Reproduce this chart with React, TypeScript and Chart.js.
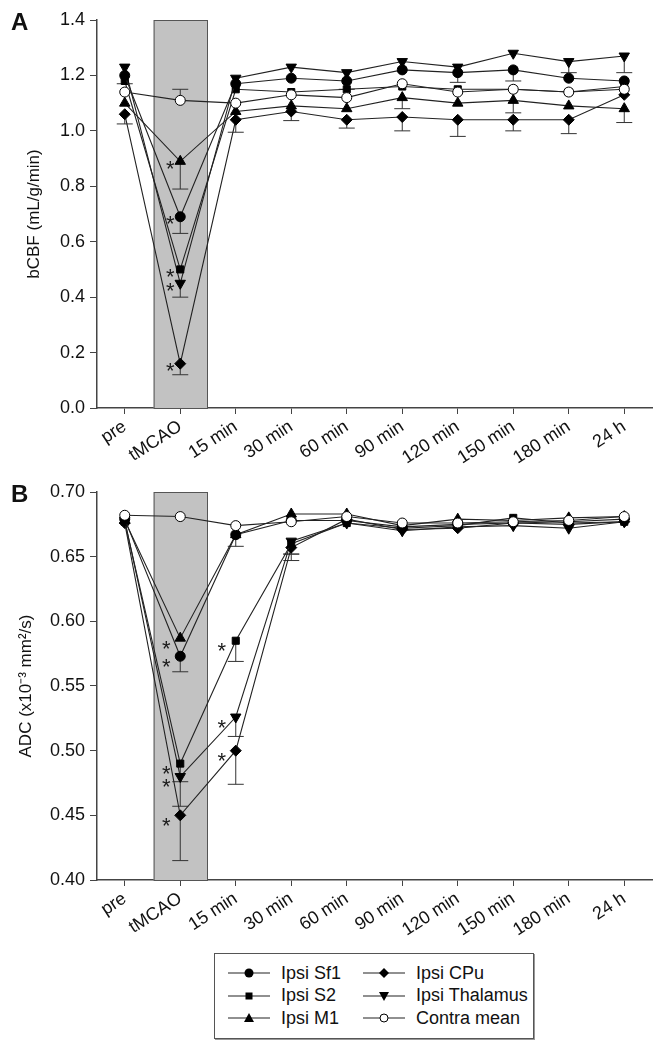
import React, { useEffect, useRef } from 'react';
import { Chart, registerables } from 'chart.js';

Chart.register(...registerables);

const FONT = '"Liberation Sans", Arial, Helvetica, sans-serif';

// ---- categories / ticks ----
const categories = ['pre', 'tMCAO', '15 min', '30 min', '60 min', '90 min', '120 min', '150 min', '180 min', '24 h'];
const seriesNames = ['Ipsi Sf1', 'Ipsi S2', 'Ipsi M1', 'Ipsi CPu', 'Ipsi Thalamus', 'Contra mean'];
const cbfTicks = { min: 0, max: 1.4, step: 0.2 };
const adcTicks = { min: 0.4, max: 0.7, step: 0.05 };
// tMCAO occlusion period (in category units)
const occlusionFrom = 0.52;
const occlusionTo = 1.5;

// ---- Panel A: bCBF (mL/g/min) ----
const cbfSf1 = [1.20, 0.69, 1.17, 1.19, 1.18, 1.22, 1.21, 1.22, 1.19, 1.18];
const cbfS2 = [1.18, 0.50, 1.15, 1.14, 1.15, 1.16, 1.15, 1.15, 1.14, 1.16];
const cbfM1 = [1.10, 0.89, 1.07, 1.09, 1.08, 1.12, 1.10, 1.11, 1.09, 1.08];
const cbfCPu = [1.06, 0.16, 1.04, 1.07, 1.04, 1.05, 1.04, 1.04, 1.04, 1.13];
const cbfThal = [1.23, 0.45, 1.19, 1.23, 1.21, 1.25, 1.23, 1.28, 1.25, 1.27];
const cbfContra = [1.14, 1.11, 1.10, 1.13, 1.12, 1.17, 1.14, 1.15, 1.14, 1.15];

// signed SEM (positive: drawn up, negative: drawn down)
const cbfSf1Err = [-0.03, -0.06, null, null, -0.03, null, -0.035, -0.04, null, null];
const cbfS2Err = [null, null, null, null, null, null, null, null, null, null];
const cbfM1Err = [null, -0.10, null, null, null, -0.04, null, -0.045, null, -0.05];
const cbfCPuErr = [-0.035, -0.04, -0.045, -0.033, -0.03, -0.05, -0.06, -0.04, -0.05, null];
const cbfThalErr = [null, -0.05, null, null, null, null, null, null, -0.04, -0.06];
const cbfContraErr = [null, 0.04, null, null, null, null, null, null, null, null];

// ---- Panel B: ADC (x10^-3 mm^2/s) ----
const adcSf1 = [0.679, 0.573, 0.667, 0.678, 0.678, 0.673, 0.675, 0.676, 0.677, 0.679];
const adcS2 = [0.677, 0.490, 0.585, 0.660, 0.676, 0.672, 0.674, 0.680, 0.676, 0.677];
const adcM1 = [0.678, 0.587, 0.667, 0.683, 0.683, 0.674, 0.679, 0.678, 0.680, 0.681];
const adcCPu = [0.676, 0.450, 0.500, 0.657, 0.679, 0.671, 0.672, 0.676, 0.675, 0.677];
const adcThal = [0.678, 0.480, 0.526, 0.662, 0.676, 0.670, 0.673, 0.674, 0.672, 0.677];
const adcContra = [0.682, 0.681, 0.674, 0.677, 0.681, 0.676, 0.676, 0.677, 0.678, 0.681];

const adcSf1Err = [null, -0.012, -0.009, null, null, null, null, null, null, null];
const adcS2Err = [null, -0.014, -0.016, -0.008, null, null, null, null, null, null];
const adcM1Err = [null, null, null, null, null, null, null, null, null, null];
const adcCPuErr = [null, -0.035, -0.026, -0.005, null, null, null, null, null, null];
const adcThalErr = [null, -0.023, -0.015, -0.015, null, null, null, null, null, null];
const adcContraErr = [null, null, null, null, null, null, null, null, null, null];

// significance asterisks (category indices)
const cbfSig = [[1], [1], [1], [1], [1], []];
const adcSig = [[1], [1, 2], [1], [1, 2], [1, 2], []];

const markerStyles = [
  { pointStyle: 'circle', rot: 0, fill: '#000', r: 5 },
  { pointStyle: 'rect', rot: 0, fill: '#000', r: 5 },
  { pointStyle: 'triangle', rot: 0, fill: '#000', r: 6 },
  { pointStyle: 'rectRot', rot: 0, fill: '#000', r: 5.5 },
  { pointStyle: 'triangle', rot: 180, fill: '#000', r: 6 },
  { pointStyle: 'circle', rot: 0, fill: '#fff', r: 5 },
];

const overlayPlugin = {
  id: 'overlay',
  beforeDatasetsDraw(chart: any) {
    const { ctx, scales } = chart;
    const x = scales.x, y = scales.y;
    const x0 = x.getPixelForValue(occlusionFrom);
    const x1 = x.getPixelForValue(occlusionTo);
    const yt = y.getPixelForValue(y.max);
    const yb = y.getPixelForValue(y.min);
    ctx.save();
    ctx.fillStyle = '#c2c2c2';
    ctx.fillRect(x0, yt, x1 - x0, yb - yt);
    ctx.strokeStyle = '#555';
    ctx.lineWidth = 1;
    ctx.strokeRect(x0 + 0.5, yt + 0.5, x1 - x0 - 1, yb - yt);
    // error bars
    ctx.strokeStyle = '#333';
    ctx.lineWidth = 1;
    chart.data.datasets.forEach((ds: any) => {
      (ds.errors || []).forEach((e: number | null, i: number) => {
        if (e == null) return;
        const v = ds.data[i];
        const px = x.getPixelForValue(i);
        const py = y.getPixelForValue(v);
        const pe = y.getPixelForValue(v + e);
        ctx.beginPath();
        ctx.moveTo(px, py);
        ctx.lineTo(px, pe);
        ctx.moveTo(px - 8, pe);
        ctx.lineTo(px + 8, pe);
        ctx.stroke();
      });
    });
    ctx.restore();
  },
  afterDatasetsDraw(chart: any, _args: any, opts: any) {
    const { ctx, scales } = chart;
    const x = scales.x, y = scales.y;
    const dx = opts.dx ?? -12;
    const dy = opts.dy ?? 9;
    ctx.save();
    ctx.fillStyle = '#1a1a1a';
    ctx.font = `22px ${FONT}`;
    ctx.textAlign = 'center';
    ctx.textBaseline = 'middle';
    chart.data.datasets.forEach((ds: any) => {
      (ds.stars || []).forEach((i: number) => {
        const px = x.getPixelForValue(i);
        const py = y.getPixelForValue(ds.data[i]);
        ctx.fillText('*', px + dx, py + dy);
      });
    });
    ctx.restore();
  },
};

function makeConfig(values: number[][], errs: (number | null)[][], sig: number[][], ticks: any, decimals: number, title: string, titlePad: number, padTop: number, starDx: number, starDy: number) {
  return {
    type: 'line',
    data: {
      labels: categories,
      datasets: values.map((d, k) => ({
        label: seriesNames[k],
        data: d,
        errors: errs[k],
        stars: sig[k],
        borderColor: '#222',
        borderWidth: 1.1,
        backgroundColor: markerStyles[k].fill,
        pointBackgroundColor: markerStyles[k].fill,
        pointBorderColor: '#000',
        pointBorderWidth: 1,
        pointStyle: markerStyles[k].pointStyle,
        pointRotation: markerStyles[k].rot,
        pointRadius: markerStyles[k].r,
        tension: 0,
        fill: false,
        order: k === 5 ? -1 : k,
      })),
    },
    options: {
      responsive: false,
      animation: false,
      devicePixelRatio: 1,
      layout: { padding: { top: padTop, right: 7, left: 0, bottom: 0 } },
      plugins: { legend: { display: false }, tooltip: { enabled: false }, overlay: { dx: starDx, dy: starDy } },
      scales: {
        x: {
          type: 'category',
          offset: true,
          grid: { display: true, drawOnChartArea: false, drawTicks: true, tickLength: 6, color: '#444', offset: false },
          border: { display: true, color: '#444', width: 1.5 },
          ticks: { color: '#111', font: { family: FONT, size: 18 }, minRotation: 33, maxRotation: 33, autoSkip: false, padding: 2 },
          afterFit(scale: any) { scale.height = 62; },
        },
        y: {
          type: 'linear',
          min: ticks.min,
          max: ticks.max,
          grid: { display: true, drawOnChartArea: false, drawTicks: true, tickLength: 7, color: '#444' },
          border: { display: true, color: '#444', width: 1.5 },
          ticks: {
            stepSize: ticks.step,
            color: '#111',
            font: { family: FONT, size: 18 },
            padding: 5,
            callback: (v: number) => Number(v).toFixed(decimals),
          },
          title: { display: true, text: title, color: '#111', font: { family: FONT, size: 17 }, padding: { top: titlePad, bottom: 0 } },
          afterFit(scale: any) { scale.width = 97; },
        },
      },
    },
    plugins: [overlayPlugin],
  };
}

function Marker({ k }: { k: number }) {
  const cx = 21, cy = 8;
  const m = k;
  let shape: any = null;
  if (m === 0) shape = <circle cx={cx} cy={cy} r={4.5} fill="#000" />;
  if (m === 1) shape = <rect x={cx - 3.5} y={cy - 3.5} width={7} height={7} fill="#000" />;
  if (m === 2) shape = <polygon points={`${cx},${cy - 5} ${cx - 5},${cy + 4} ${cx + 5},${cy + 4}`} fill="#000" />;
  if (m === 3) shape = <polygon points={`${cx},${cy - 5} ${cx + 5},${cy} ${cx},${cy + 5} ${cx - 5},${cy}`} fill="#000" />;
  if (m === 4) shape = <polygon points={`${cx},${cy + 5} ${cx - 5},${cy - 4} ${cx + 5},${cy - 4}`} fill="#000" />;
  if (m === 5) shape = <circle cx={cx} cy={cy} r={4} fill="#fff" stroke="#000" strokeWidth={1} />;
  return (
    <svg width={42} height={16} style={{ display: 'block' }}>
      <line x1={0} y1={cy} x2={42} y2={cy} stroke="#222" strokeWidth={1.2} />
      {shape}
    </svg>
  );
}

export default function App() {
  const ref1 = useRef<HTMLCanvasElement>(null);
  const ref2 = useRef<HTMLCanvasElement>(null);

  useEffect(() => {
    document.body.style.margin = '0';
    const c1 = new Chart(ref1.current as any, makeConfig(
      [cbfSf1, cbfS2, cbfM1, cbfCPu, cbfThal, cbfContra],
      [cbfSf1Err, cbfS2Err, cbfM1Err, cbfCPuErr, cbfThalErr, cbfContraErr],
      cbfSig, cbfTicks, 1, 'bCBF (mL/g/min)', 24, 20, -10, 8.5) as any);
    const c2 = new Chart(ref2.current as any, makeConfig(
      [adcSf1, adcS2, adcM1, adcCPu, adcThal, adcContra],
      [adcSf1Err, adcS2Err, adcM1Err, adcCPuErr, adcThalErr, adcContraErr],
      adcSig, adcTicks, 2, 'ADC (x10\u207B\u00B3 mm\u00B2/s)', 16, 22, -14, 11.5) as any);
    return () => { c1.destroy(); c2.destroy(); };
  }, []);

  // legend order: column-major (col 1: Sf1, S2, M1; col 2: CPu, Thalamus, Contra)
  const legendCols = [[0, 1, 2], [3, 4, 5]];

  return (
    <div style={{ position: 'absolute', left: 0, top: 0, width: 659, height: 1050, background: '#fff', fontFamily: FONT, overflow: 'hidden' }}>
      <canvas ref={ref1} width={659} height={470} style={{ position: 'absolute', left: 0, top: 0 }} />
      <canvas ref={ref2} width={659} height={472} style={{ position: 'absolute', left: 0, top: 470 }} />
      <div style={{ position: 'absolute', left: 11, top: 10, fontSize: 24, fontWeight: 'bold', lineHeight: 1, color: '#111' }}>A</div>
      <div style={{ position: 'absolute', left: 11, top: 482, fontSize: 24, fontWeight: 'bold', lineHeight: 1, color: '#111' }}>B</div>
      <div style={{ position: 'absolute', left: 214, top: 953, width: 318, height: 84, border: '1px solid #555', boxShadow: '1px 1px 0 #999', background: '#fff' }}>
        {legendCols.map((col, ci) => col.map((k, ri) => (
          <div key={k} style={{ position: 'absolute', left: ci === 0 ? 13 : 148, top: 8 + ri * 22.5, height: 22, display: 'flex', alignItems: 'center' }}>
            <Marker k={k} />
            <span style={{ marginLeft: 11, fontSize: 18, color: '#111', whiteSpace: 'nowrap' }}>{seriesNames[k]}</span>
          </div>
        )))}
      </div>
    </div>
  );
}
